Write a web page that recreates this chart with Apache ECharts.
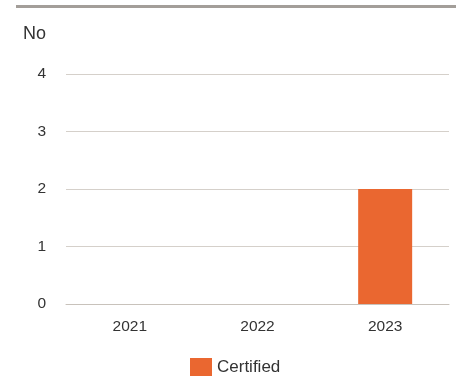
<!DOCTYPE html>
<html>
<head>
<meta charset="utf-8">
<script src="https://cdn.jsdelivr.net/npm/echarts@6/dist/echarts.min.js"></script>
<style>
  html, body { margin: 0; padding: 0; background: #fff; }
  #chart { width: 461px; height: 379px; }
</style>
</head>
<body>
<div id="chart"></div>
<script>
var years = ['2021', '2022', '2023'];
var certified = [0, 0, 2];
var yTicks = [0, 1, 2, 3, 4];

var chart = echarts.init(document.getElementById('chart'));
chart.setOption({
  animation: false,
  textStyle: { fontFamily: 'Liberation Sans, Arial, sans-serif' },
  title: {
    text: 'No',
    left: 18,
    top: 20,
    textStyle: { fontSize: 18, fontWeight: 'normal', color: '#333' }
  },
  graphic: [{
    type: 'rect',
    shape: { x: 16, y: 5, width: 440, height: 3 },
    style: { fill: '#a39e99' }
  }],
  grid: { left: 66, right: 12, top: 74, bottom: 75 },
  legend: {
    data: ['Certified'],
    icon: 'rect',
    left: 185,
    top: 353,
    itemWidth: 22,
    itemHeight: 18,
    textStyle: { fontSize: 17, color: '#333' }
  },
  xAxis: {
    type: 'category',
    data: years,
    axisLine: { lineStyle: { color: '#c8c2bb', width: 1 } },
    axisTick: { length: 12, lineStyle: { color: '#c8c2bb' } },
    axisLabel: { fontSize: 15.5, color: '#333', margin: 15 }
  },
  yAxis: {
    type: 'value',
    min: yTicks[0],
    max: yTicks[yTicks.length - 1],
    interval: 1,
    axisLine: { show: false },
    axisTick: { show: false },
    axisLabel: { fontSize: 15.5, color: '#333', margin: 20 },
    splitLine: { lineStyle: { color: '#d5d0ca', width: 1 } }
  },
  series: [{
    name: 'Certified',
    type: 'bar',
    data: certified,
    barWidth: 54,
    itemStyle: { color: '#ea6730' }
  }]
});
</script>
</body>
</html>
